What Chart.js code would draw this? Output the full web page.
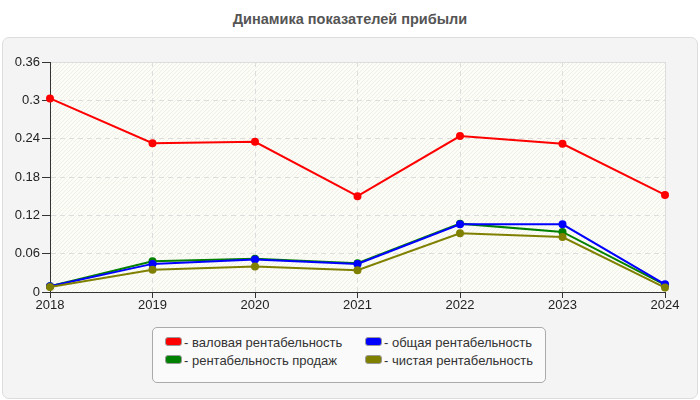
<!DOCTYPE html>
<html>
<head>
<meta charset="utf-8">
<script src="https://cdn.jsdelivr.net/npm/chart.js@4"></script>
<style>
  body { margin: 0; width: 700px; height: 400px; background: #fff; font-family: "Liberation Sans", Arial, sans-serif; position: relative; overflow: hidden; }
  #titul { position: absolute; left: 0; top: 11px; width: 700px; text-align: center; font-weight: bold; font-size: 14.5px; color: #555; }
  #panel { position: absolute; left: 2px; top: 37px; width: 694px; height: 360px; border: 1px solid #ddd; border-radius: 7px; background: #f4f4f4; }
  #wrap { position: absolute; left: 0; top: 0; width: 700px; height: 320px; }
  #legenda { position: absolute; left: 152px; top: 327px; width: 394px; height: 56px; border: 1px solid #aaa; border-radius: 5px; background: #fafafa; box-sizing: border-box; }
  .item { position: absolute; font-size: 13px; color: #333; white-space: nowrap; line-height: 16px; }
  .box { display: inline-block; width: 15px; height: 7px; border: 1px solid #999; border-radius: 3px; vertical-align: 1px; margin-right: 2px; }
</style>
</head>
<body>
<div id="titul">Динамика показателей прибыли</div>
<div id="panel"></div>
<div id="wrap"><canvas id="grafik" width="700" height="320"></canvas></div>
<div id="legenda"></div>
<script>
// Данные
const gody = ['2018', '2019', '2020', '2021', '2022', '2023', '2024'];
const valovaya = [0.303, 0.233, 0.235, 0.150, 0.244, 0.232, 0.152];
const prodazhi = [0.009, 0.048, 0.052, 0.045, 0.107, 0.094, 0.011];
const obshaya = [0.009, 0.044, 0.051, 0.044, 0.106, 0.106, 0.012];
const chistaya = [0.008, 0.035, 0.040, 0.034, 0.092, 0.086, 0.007];
const metkiY = [0, 0.06, 0.12, 0.18, 0.24, 0.3, 0.36];

const serii = [
  { label: 'валовая рентабельность', data: valovaya, color: '#ff0000', order: 3 },
  { label: 'рентабельность продаж', data: prodazhi, color: '#008000', order: 2 },
  { label: 'общая рентабельность', data: obshaya, color: '#0000ff', order: 1 },
  { label: 'чистая рентабельность', data: chistaya, color: '#808000', order: 0 }
];

// Фон области графика со штриховкой
const fonPlugin = {
  id: 'fon',
  beforeDraw(chart) {
    const a = chart.chartArea;
    const ctx = chart.ctx;
    ctx.save();
    ctx.fillStyle = '#fcfdf6';
    ctx.fillRect(a.left, a.top, a.right - a.left, a.bottom - a.top);
    ctx.beginPath();
    ctx.rect(a.left, a.top, a.right - a.left, a.bottom - a.top);
    ctx.clip();
    ctx.strokeStyle = 'rgba(200,200,190,0.25)';
    ctx.lineWidth = 1;
    for (let x = a.left - (a.bottom - a.top); x < a.right; x += 4) {
      ctx.beginPath();
      ctx.moveTo(x, a.bottom);
      ctx.lineTo(x + (a.bottom - a.top), a.top);
      ctx.stroke();
    }
    ctx.restore();
    ctx.save();
    ctx.strokeStyle = '#dddddd';
    ctx.lineWidth = 1;
    ctx.beginPath();
    ctx.moveTo(a.left, a.top + 0.5);
    ctx.lineTo(a.right + 0.5, a.top + 0.5);
    ctx.lineTo(a.right + 0.5, a.bottom);
    ctx.stroke();
    ctx.restore();
  }
};

const ctx = document.getElementById('grafik').getContext('2d');
new Chart(ctx, {
  type: 'line',
  data: {
    labels: gody,
    datasets: serii.map(s => ({
      label: s.label,
      data: s.data,
      borderColor: s.color,
      backgroundColor: s.color,
      pointBackgroundColor: s.color,
      pointBorderColor: s.color,
      pointRadius: 3,
      borderWidth: 2,
      tension: 0,
      order: s.order
    }))
  },
  options: {
    responsive: false,
    animation: false,
    layout: { padding: { left: 0, right: 35, top: 62, bottom: 0 } },
    plugins: {
      legend: { display: false },
      title: { display: false },
      tooltip: { enabled: false }
    },
    scales: {
      x: {
        offset: false,
        afterFit(scale) { scale.height = 28; },
        grid: { color: '#dddddd', tickColor: '#333', tickLength: 6, tickBorderDash: [] },
        border: { color: '#333', width: 1, dash: [5, 4] },
        ticks: { color: '#222', font: { family: 'Liberation Sans', size: 13 }, padding: 0, maxRotation: 0 }
      },
      y: {
        min: 0,
        max: 0.36,
        afterFit(scale) { scale.width = 50; },
        afterBuildTicks(scale) { scale.ticks = metkiY.map(v => ({ value: v })); },
        grid: { color: '#dddddd', tickColor: '#333', tickLength: 8, tickBorderDash: [] },
        border: { color: '#333', width: 1, dash: [5, 4] },
        ticks: {
          color: '#222',
          font: { family: 'Liberation Sans', size: 13 },
          padding: 2,
          callback: v => String(Math.round(v * 100) / 100)
        }
      }
    }
  },
  plugins: [fonPlugin]
});

// Легенда
const legenda = document.getElementById('legenda');
const poz = [[12, 7], [12, 25], [212, 7], [212, 25]];
serii.forEach((s, i) => {
  const el = document.createElement('div');
  el.className = 'item';
  el.style.left = poz[i][0] + 'px';
  el.style.top = poz[i][1] + 'px';
  el.innerHTML = '<span class="box" style="background:' + s.color + '"></span>- ' + s.label;
  legenda.appendChild(el);
});
</script>
</body>
</html>
